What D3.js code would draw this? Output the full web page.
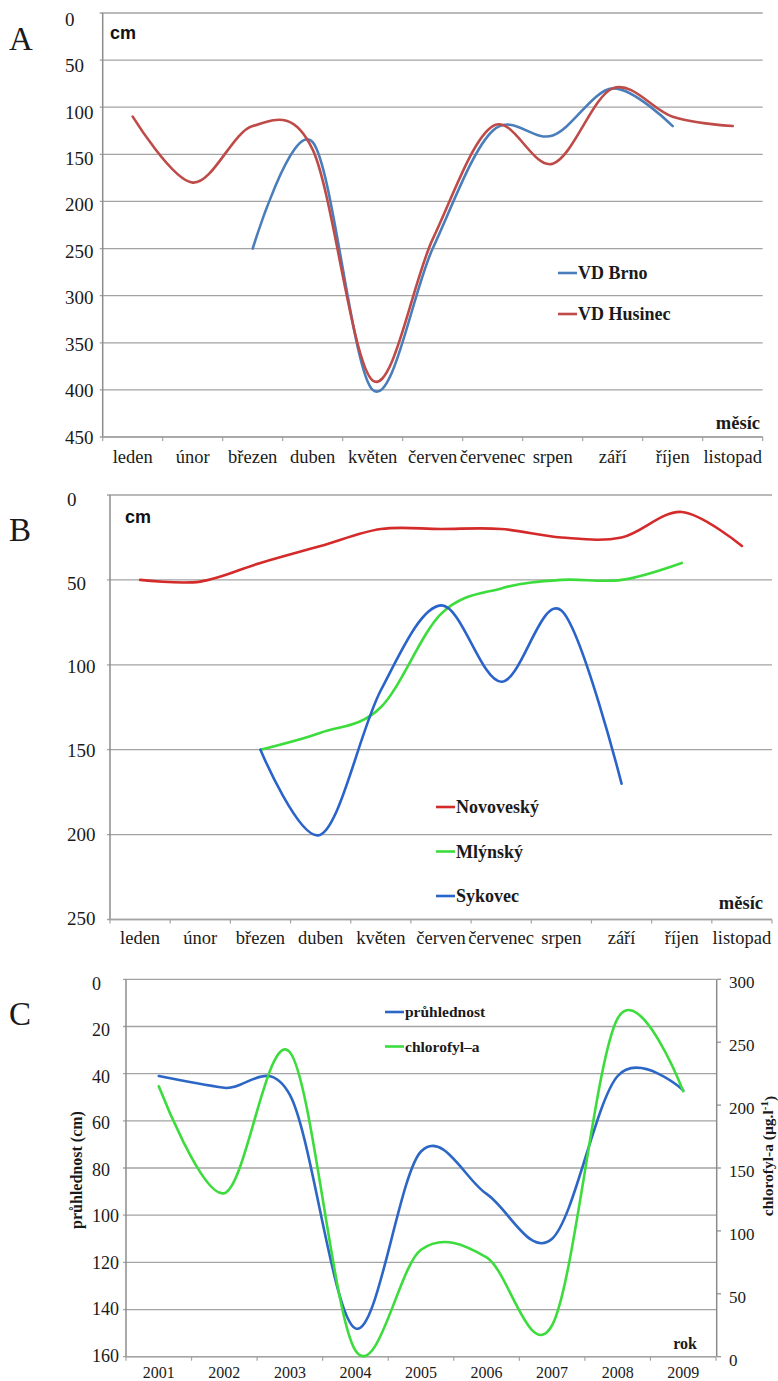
<!DOCTYPE html>
<html>
<head>
<meta charset="utf-8">
<script src="https://cdn.jsdelivr.net/npm/d3@7"></script>
<style>
  body { margin: 0; background: #fff; }
  svg { display: block; }
</style>
</head>
<body>
<div id="chart"></div>
<script>
// panel A + B categories
const months = ['leden', 'únor', 'březen', 'duben', 'květen', 'červen', 'červenec', 'srpen', 'září', 'říjen', 'listopad'];

// A: depth (cm)
const vdBrno = [null, null, 250, 137, 400, 250, 125, 130, 80, 120, null];
const vdHusinec = [110, 180, 120, 145, 390, 240, 120, 160, 80, 110, 120];
const ticksA = [0, 50, 100, 150, 200, 250, 300, 350, 400, 450];

// B: depth (cm)
const novovesky = [50, 51, 40, 30, 20, 20, 20, 25, 25, 10, 30];
const mlynsky = [null, null, 150, 140, 125, 70, 55, 50, 50, 40, null];
const sykovec = [null, null, 150, 200, 115, 65, 110, 68, 170, null, null];
const ticksB = [0, 50, 100, 150, 200, 250];

// C: yearly
const years = ['2001', '2002', '2003', '2004', '2005', '2006', '2007', '2008', '2009'];
const pruhlednost = [41, 46, 49, 148, 73, 91, 110, 41, 47];
const chlorofyl = [215, 130, 242, 5, 85, 79, 25, 269, 211];
const ticksCLeft = [0, 20, 40, 60, 80, 100, 120, 140, 160];
const ticksCRight = [0, 50, 100, 150, 200, 250, 300];

const W = 778, H = 1381;
const gridColor = '#a3a3a3';
const SERIF = '"Liberation Serif", "Times New Roman", Times, "DejaVu Serif", serif';
const SANS = '"Liberation Sans", Arial, Helvetica, sans-serif';

const svg = d3.select('#chart').append('svg')
  .attr('width', W)
  .attr('height', H);

const curve = d3.curveCardinal.tension(0);

function serifText(g) {
  return g.append('text')
    .attr('font-family', SERIF)
    .attr('fill', '#1a1a1a');
}

function drawSeries(g, x, y, cats, values, color) {
  const pts = cats.map((c, i) => ({c, v: values[i]})).filter(d => d.v !== null);
  g.append('path')
    .datum(pts)
    .attr('fill', 'none')
    .attr('stroke', color)
    .attr('stroke-width', 2.6)
    .attr('stroke-linecap', 'round')
    .attr('d', d3.line()
      .x(d => x(d.c) + x.bandwidth() / 2)
      .y(d => y(d.v))
      .curve(curve));
}

function legend(g, items, lx, ly, gap, size) {
  items.forEach((it, i) => {
    const yy = ly + i * gap;
    g.append('line')
      .attr('x1', lx).attr('x2', lx + 19)
      .attr('y1', yy).attr('y2', yy)
      .attr('stroke', it.color).attr('stroke-width', 2.6);
    serifText(g)
      .attr('x', lx + 20).attr('y', yy)
      .attr('dy', '0.35em')
      .attr('font-size', size)
      .attr('font-weight', 'bold')
      .text(it.name);
  });
}

function xAxis(g, x, yPos, cats, labelY, size) {
  g.append('line')
    .attr('x1', x.range()[0]).attr('x2', x.range()[1])
    .attr('y1', yPos).attr('y2', yPos)
    .attr('stroke', gridColor).attr('stroke-width', 1.5);
  const edges = cats.map(c => x(c)).concat([x.range()[1]]);
  g.selectAll('.xtick')
    .data(edges)
    .enter()
    .append('line')
    .attr('x1', d => d).attr('x2', d => d)
    .attr('y1', yPos).attr('y2', yPos + 4)
    .attr('stroke', gridColor).attr('stroke-width', 1.2);
  g.selectAll('.xlab')
    .data(cats)
    .enter()
    .append('text')
    .attr('font-family', SERIF)
    .attr('fill', '#1a1a1a')
    .attr('x', d => x(d) + x.bandwidth() / 2)
    .attr('y', labelY)
    .attr('dy', '0.35em')
    .attr('text-anchor', 'middle')
    .attr('font-size', size)
    .text(d => d);
}

function yGrid(g, x, y, ticks, labelX, size, offTop, offBottom) {
  const [x0, x1] = x.range();
  const [d0, d1] = y.domain();
  g.selectAll('.grid')
    .data(ticks)
    .enter()
    .append('line')
    .attr('x1', x0 - 3).attr('x2', x1)
    .attr('y1', d => y(d)).attr('y2', d => y(d))
    .attr('stroke', gridColor).attr('stroke-width', 1.3);
  g.append('line')
    .attr('x1', x0).attr('x2', x0)
    .attr('y1', y(d0)).attr('y2', y(d1))
    .attr('stroke', '#8c8c8c').attr('stroke-width', 1.5);
  g.selectAll('.ylab')
    .data(ticks)
    .enter()
    .append('text')
    .attr('font-family', SERIF)
    .attr('fill', '#1a1a1a')
    .attr('x', labelX)
    .attr('y', d => y(d) + offTop + (offBottom - offTop) * (d - d0) / (d1 - d0))
    .attr('dy', '0.35em')
    .attr('font-size', size)
    .text(d => d);
}

function panelLetter(txt, x, y) {
  serifText(svg)
    .attr('x', x).attr('y', y)
    .attr('dy', '0.35em')
    .attr('font-size', 33)
    .text(txt);
}

function cmLabel(g, x, y) {
  g.append('text')
    .attr('font-family', SANS)
    .attr('fill', '#111')
    .attr('x', x).attr('y', y).attr('dy', '0.35em')
    .attr('font-size', 18).attr('font-weight', 'bold')
    .text('cm');
}

// ---------- Panel A ----------
{
  const g = svg.append('g');
  const x = d3.scaleBand().domain(months).range([102.7, 762.7]);
  const y = d3.scaleLinear().domain([0, 450]).range([13, 437]);
  yGrid(g, x, y, ticksA, 65, 19, 6, 0);
  xAxis(g, x, y(450), months, 457, 18.5);
  drawSeries(g, x, y, months, vdBrno, '#4a7ebb');
  drawSeries(g, x, y, months, vdHusinec, '#be4b48');
  legend(g, [{name: 'VD Brno', color: '#4a7ebb'}, {name: 'VD Husinec', color: '#be4b48'}], 558, 273, 41, 18);
  cmLabel(g, 110, 33);
  serifText(g).attr('x', 760).attr('y', 423).attr('dy', '0.35em')
    .attr('text-anchor', 'end').attr('font-size', 18.5).attr('font-weight', 'bold').text('měsíc');
  panelLetter('A', 9, 38);
}

// ---------- Panel B ----------
{
  const g = svg.append('g');
  const x = d3.scaleBand().domain(months).range([110, 772]);
  const y = d3.scaleLinear().domain([0, 250]).range([495, 919.5]);
  yGrid(g, x, y, ticksB, 67, 19, 4, -1);
  xAxis(g, x, y(250), months, 938, 18.5);
  drawSeries(g, x, y, months, novovesky, '#d42a2a');
  drawSeries(g, x, y, months, mlynsky, '#3ddc3d');
  drawSeries(g, x, y, months, sykovec, '#2a63c9');
  legend(g, [
    {name: 'Novoveský', color: '#d42a2a'},
    {name: 'Mlýnský', color: '#3ddc3d'},
    {name: 'Sykovec', color: '#2a63c9'}
  ], 436, 807, 44.5, 18);
  cmLabel(g, 125, 517);
  serifText(g).attr('x', 763).attr('y', 903).attr('dy', '0.35em')
    .attr('text-anchor', 'end').attr('font-size', 18.5).attr('font-weight', 'bold').text('měsíc');
  panelLetter('B', 9, 529);
}

// ---------- Panel C ----------
{
  const g = svg.append('g');
  const x = d3.scaleBand().domain(years).range([126, 716]);
  const y = d3.scaleLinear().domain([0, 160]).range([979.3, 1356.7]);
  const y2 = d3.scaleLinear().domain([0, 300]).range([1356.7, 979.3]);
  yGrid(g, x, y, ticksCLeft, 92, 18, 4, -1);
  // right axis
  g.append('line')
    .attr('x1', 716.7).attr('x2', 716.7)
    .attr('y1', y2(0)).attr('y2', y2(300))
    .attr('stroke', '#8c8c8c').attr('stroke-width', 1.5);
  g.selectAll('.rtick')
    .data(ticksCRight)
    .enter()
    .append('line')
    .attr('x1', 716.7).attr('x2', 721)
    .attr('y1', d => y2(d)).attr('y2', d => y2(d))
    .attr('stroke', '#8c8c8c').attr('stroke-width', 1.2);
  g.selectAll('.rlab')
    .data(ticksCRight)
    .enter()
    .append('text')
    .attr('font-family', SERIF)
    .attr('fill', '#1a1a1a')
    .attr('x', 729)
    .attr('y', d => y2(d) + 3)
    .attr('dy', '0.35em')
    .attr('font-size', 17)
    .text(d => d);
  xAxis(g, x, y(160), years, 1372, 16);
  drawSeries(g, x, y, years, pruhlednost, '#2d67c5');
  drawSeries(g, x, y2, years, chlorofyl, '#3ddc3d');
  legend(g, [{name: 'průhlednost', color: '#2d67c5'}, {name: 'chlorofyl–a', color: '#3ddc3d'}], 385, 1012, 34.5, 15.5);
  serifText(g).attr('x', 697).attr('y', 1343).attr('dy', '0.35em')
    .attr('text-anchor', 'end').attr('font-size', 16).attr('font-weight', 'bold').text('rok');
  serifText(g)
    .attr('transform', 'translate(76,1170) rotate(-90)')
    .attr('dy', '0.35em')
    .attr('text-anchor', 'middle').attr('font-size', 16).attr('font-weight', 'bold')
    .text('průhlednost (cm)');
  const rt = serifText(g)
    .attr('transform', 'translate(768,1156) rotate(-90)')
    .attr('dy', '0.35em')
    .attr('text-anchor', 'middle').attr('font-size', 15.5).attr('font-weight', 'bold');
  rt.append('tspan').text('chlorofyl-a (µg.l');
  rt.append('tspan').attr('dy', '-0.45em').attr('font-size', 11).text('-1');
  rt.append('tspan').attr('dy', '0.45em').text(')');
  panelLetter('C', 9, 1013);
}
</script>
</body>
</html>
